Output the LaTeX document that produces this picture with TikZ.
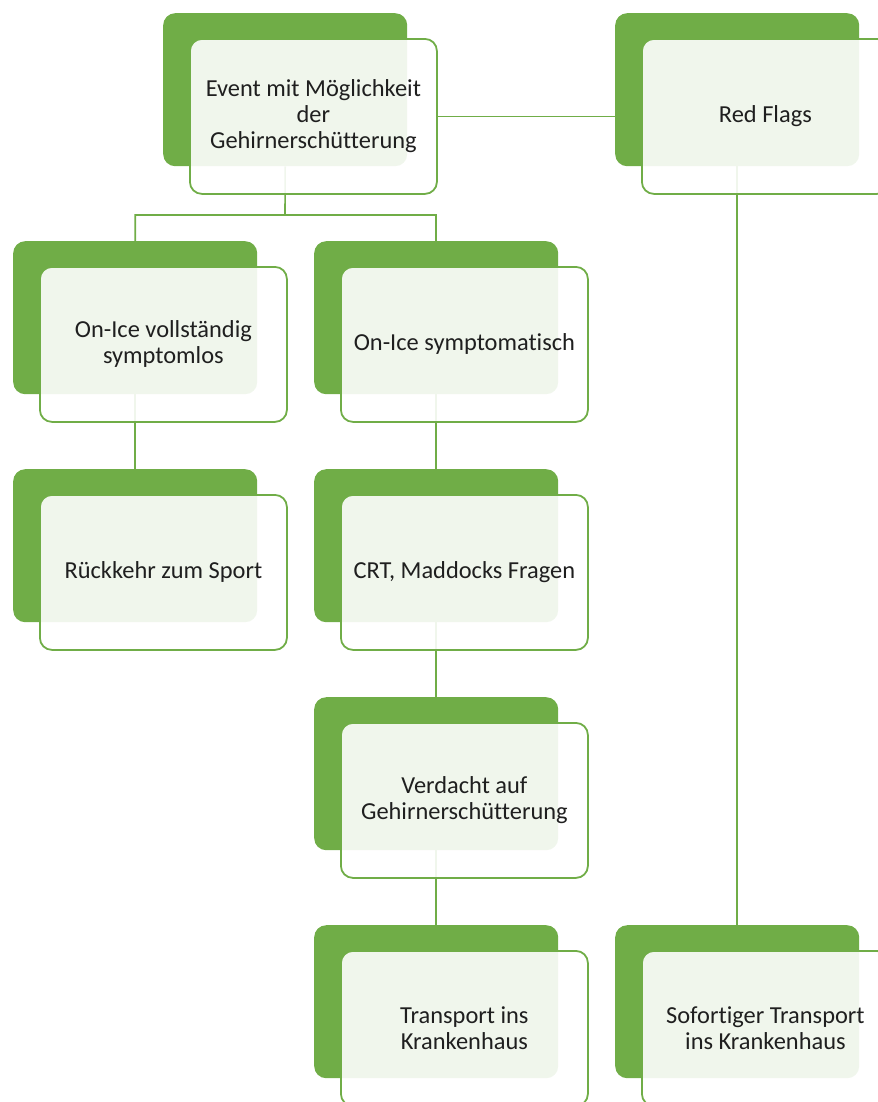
\documentclass[tikz,border=0pt]{standalone}
\usepackage{fontspec}
\setmainfont{Carlito}[Ligatures={NoCommon}]
\definecolor{grn}{HTML}{70AD47}
\pgfdeclarelayer{backl}
\pgfdeclarelayer{linkl}
\pgfsetlayers{backl,linkl,main}
\tikzset{
  backbox/.style={anchor=north west, fill=grn, rounded corners=12bp,
    minimum width=244bp, minimum height=153bp, inner sep=0pt},
  frontbox/.style={anchor=north west, fill=white, fill opacity=0.9, text opacity=1,
    draw=grn, line width=1.8bp, rounded corners=12bp,
    minimum width=247bp, minimum height=155bp, inner sep=0pt, align=center,
    font=\fontsize{24.5}{26}\selectfont, text=black!88},
  link/.style={draw=grn, line width=1.6bp}
}
\begin{document}
\begin{tikzpicture}[x=1bp,y=-1bp]
\useasboundingbox (0,0) rectangle (878,1102);
\clip (0,0) rectangle (878,1102);
\begin{pgfonlayer}{backl}
\node[backbox] (bE) at (163,13) {};
\node[backbox] (bR) at (615,13) {};
\node[backbox] (bA) at (13,241) {};
\node[backbox] (bB) at (314,241) {};
\node[backbox] (bC) at (13,469) {};
\node[backbox] (bD) at (314,469) {};
\node[backbox] (bV) at (314,697) {};
\node[backbox] (bT) at (314,925) {};
\node[backbox] (bS) at (615,925) {};
\end{pgfonlayer}
\node[frontbox] (fE) at (189,38) {Event mit Möglichkeit\\der\\Gehirnerschütterung};
\node[frontbox] (fR) at (641,38) {Red Flags};
\node[frontbox] (fA) at (39,266) {On-Ice vollständig\\symptomlos};
\node[frontbox] (fB) at (340,266) {On-Ice symptomatisch};
\node[frontbox] (fC) at (39,494) {Rückkehr zum Sport};
\node[frontbox] (fD) at (340,494) {CRT, Maddocks Fragen};
\node[frontbox] (fV) at (340,722) {Verdacht auf\\Gehirnerschütterung};
\node[frontbox] (fT) at (340,950) {Transport ins\\Krankenhaus};
\node[frontbox] (fS) at (641,950) {Sofortiger Transport\\ins Krankenhaus};
\begin{pgfonlayer}{linkl}
\coordinate (jE) at (285,215);
\draw[link] (bE.south) -- (jE) -| (bA.north);
\draw[link] (jE) -| (bB.north);
\draw[link] (fE.east) -- (fR.west);
\draw[link] (bR.south) -- (bS.north);
\draw[link] (bA.south) -- (bC.north);
\draw[link] (bB.south) -- (bD.north);
\draw[link] (bD.south) -- (bV.north);
\draw[link] (bV.south) -- (bT.north);
\end{pgfonlayer}
\end{tikzpicture}
\end{document}
